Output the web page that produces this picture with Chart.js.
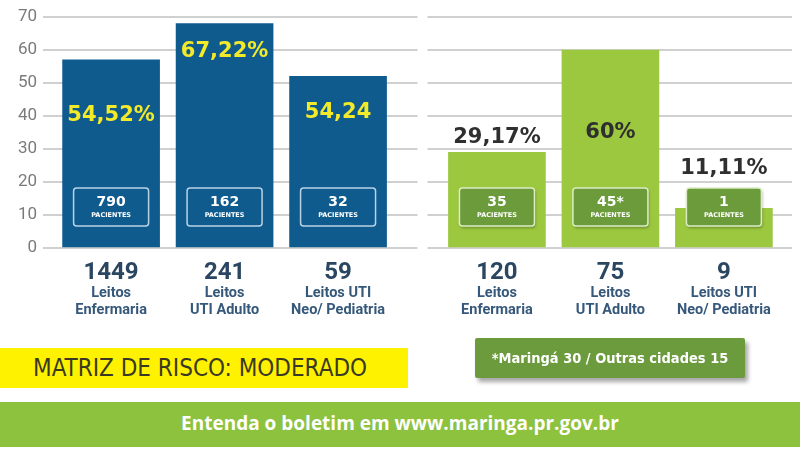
<!DOCTYPE html>
<html>
<head>
<meta charset="utf-8">
<script src="https://cdn.jsdelivr.net/npm/chart.js@4"></script>
<style>
    body { margin: 0; background: #fff; font-family: Roboto, "DejaVu Sans", sans-serif; }
    #wrap { position: relative; width: 800px; height: 450px; overflow: hidden; }
    #chart1 { position: absolute; left: 0; top: 0; }
    .risco {
        position: absolute; left: 0; top: 348px; width: 408px; height: 40px;
        background: #fff200; color: #3a3a24;
        font: 24px "Liberation Sans Narrow", "DejaVu Sans Condensed", sans-serif;
        line-height: 41px; padding-left: 33px; box-sizing: border-box; white-space: nowrap;
    }
    .nota {
        position: absolute; left: 475px; top: 338px; width: 270px; height: 40px;
        background: #6b9b3c; color: #fff; border-radius: 2px;
        box-shadow: 3px 4px 4px rgba(0, 0, 0, 0.35);
        font: bold 14.5px "Liberation Sans Narrow", "DejaVu Sans Condensed", sans-serif;
        line-height: 40px; text-align: center; white-space: nowrap;
    }
    .rodape {
        position: absolute; left: 0; top: 402px; width: 800px; height: 45px;
        background: #8dc23f; color: #fff;
        font: bold 19px "Open Sans", "DejaVu Sans", sans-serif;
        line-height: 42px; text-align: center; white-space: nowrap;
    }
</style>
</head>
<body>
<div id="wrap">
    <canvas id="chart1" width="800" height="450"></canvas>
    <div class="risco">MATRIZ DE RISCO: MODERADO</div>
    <div class="nota">*Maringá 30 / Outras cidades 15</div>
    <div class="rodape">Entenda o boletim em www.maringa.pr.gov.br</div>
</div>
<script>
var bedCounts = ['1449', '241', '59', '120', '75', '9'];
var bedTypes = [
    ['Leitos', 'Enfermaria'], ['Leitos', 'UTI Adulto'], ['Leitos UTI', 'Neo/ Pediatria'],
    ['Leitos', 'Enfermaria'], ['Leitos', 'UTI Adulto'], ['Leitos UTI', 'Neo/ Pediatria']
];
var barValues = [57, 68, 52, 29, 60, 12];
var occupancy = ['54,52%', '67,22%', '54,24', '29,17%', '60%', '11,11%'];
var patients = ['790', '162', '32', '35', '45*', '1'];
var yTicks = [0, 10, 20, 30, 40, 50, 60, 70];

var leftCount = 3;          // primeiras 3 barras: grupo azul
var groupGap = 0.4;         // espaco extra entre os dois grupos
var blue = '#0f5b8d';
var green = '#9cc83f';

// altura (em unidades do eixo) onde fica o texto de % de cada barra
var pctLevel = [40, 59.5, 41, 33.5, 35, 24];
var boxLevel = 12.4;

var points = barValues.map(function (v, i) {
    return { x: i + (i >= leftCount ? groupGap : 0), y: v };
});

function roundRect(ctx, x, y, w, h, r) {
    ctx.beginPath();
    ctx.moveTo(x + r, y);
    ctx.arcTo(x + w, y, x + w, y + h, r);
    ctx.arcTo(x + w, y + h, x, y + h, r);
    ctx.arcTo(x, y + h, x, y, r);
    ctx.arcTo(x, y, x + w, y, r);
    ctx.closePath();
}

// corta as linhas de grade entre os dois grupos
var gapPlugin = {
    id: 'gap',
    beforeDatasetsDraw: function (chart) {
        var ctx = chart.ctx, a = chart.chartArea;
        var xs = chart.scales.x;
        var mid = (xs.getPixelForValue(leftCount - 1) + xs.getPixelForValue(leftCount + groupGap)) / 2 + 5;
        ctx.save();
        ctx.fillStyle = '#fff';
        ctx.fillRect(mid - 5, a.top - 3, 10, a.bottom - a.top + 6);
        ctx.restore();
    }
};

var labelsPlugin = {
    id: 'labels',
    afterDatasetsDraw: function (chart) {
        var ctx = chart.ctx, a = chart.chartArea;
        var xs = chart.scales.x, ys = chart.scales.y;
        ctx.save();
        ctx.textAlign = 'center';
        ctx.textBaseline = 'middle';
        points.forEach(function (p, i) {
            var cx = xs.getPixelForValue(p.x);
            var isBlue = i < leftCount;

            // % de ocupacao
            ctx.font = 'bold 21px "DejaVu Sans", sans-serif';
            ctx.fillStyle = isBlue ? '#f3ea2a' : '#2f2f2f';
            ctx.fillText(occupancy[i], cx, ys.getPixelForValue(pctLevel[i]));

            // caixinha de pacientes
            var by = ys.getPixelForValue(boxLevel);
            var bw = 75, bh = 38;
            ctx.save();
            if (!isBlue) {
                ctx.shadowColor = 'rgba(0,0,0,0.3)';
                ctx.shadowOffsetX = 1;
                ctx.shadowOffsetY = 2;
                ctx.shadowBlur = 3;
            }
            roundRect(ctx, cx - bw / 2, by - bh / 2, bw, bh, 3);
            ctx.fillStyle = isBlue ? blue : '#6b9b3a';
            ctx.fill();
            ctx.restore();
            roundRect(ctx, cx - bw / 2, by - bh / 2, bw, bh, 3);
            ctx.lineWidth = 1.5;
            ctx.strokeStyle = isBlue ? '#b9d3e6' : '#dcedc6';
            ctx.stroke();
            ctx.fillStyle = '#fff';
            ctx.font = 'bold 14px "DejaVu Sans", sans-serif';
            ctx.fillText(patients[i], cx, by - 5);
            ctx.font = 'bold 6.5px "DejaVu Sans", sans-serif';
            ctx.fillText('PACIENTES', cx, by + 8);

            // leitos embaixo
            ctx.fillStyle = '#2a4661';
            ctx.font = 'bold 24px Roboto, sans-serif';
            ctx.fillText(bedCounts[i], cx, a.bottom + 25);
            ctx.fillStyle = '#36587a';
            ctx.font = 'bold 14.5px Roboto, sans-serif';
            ctx.fillText(bedTypes[i][0], cx, a.bottom + 45);
            ctx.fillText(bedTypes[i][1], cx, a.bottom + 62);
        });
        ctx.restore();
    }
};

var ctxChart1 = document.getElementById('chart1').getContext('2d');
var chart1 = new Chart(ctxChart1, {
    type: 'bar',
    plugins: [gapPlugin, labelsPlugin],
    data: {
        datasets: [{
            data: points,
            backgroundColor: points.map(function (p, i) { return i < leftCount ? blue : green; }),
            barThickness: 97,
            borderWidth: 0
        }]
    },
    options: {
        responsive: false,
        animation: false,
        layout: { padding: { top: 17, right: 8, bottom: 202, left: 0 } },
        plugins: {
            legend: { display: false },
            title: { display: false },
            tooltip: { enabled: false }
        },
        scales: {
            x: {
                type: 'linear',
                display: false,
                offset: false,
                bounds: 'data',
                min: -0.6,
                max: 6.0,
                afterBuildTicks: function (scale) { scale.ticks = []; }
            },
            y: {
                min: 0,
                max: 70,
                afterBuildTicks: function (scale) {
                    scale.ticks = yTicks.map(function (v) { return { value: v }; });
                },
                afterFit: function (scale) { scale.width = 43; },
                border: { display: false },
                grid: { color: '#d0d0d0', lineWidth: 2, drawTicks: false },
                ticks: {
                    padding: 6,
                    color: '#7a7a7a',
                    font: { family: 'Roboto', size: 17 }
                }
            }
        }
    }
});
</script>
</body>
</html>
